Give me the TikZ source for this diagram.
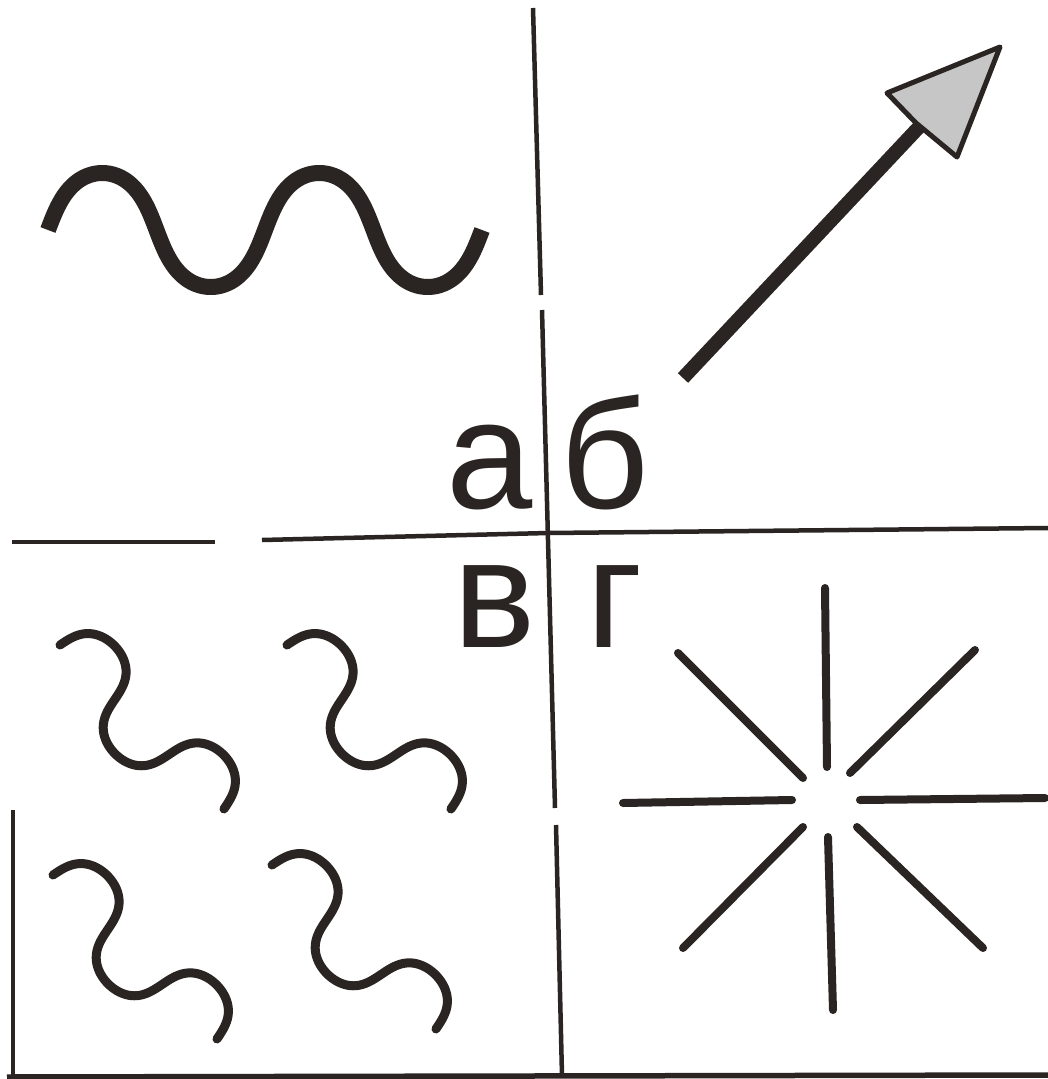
\documentclass[tikz,border=0pt]{standalone}
\usepackage{fontspec}
\setmainfont{Liberation Sans}
\definecolor{ink}{RGB}{42,36,34}
\begin{document}
\begin{tikzpicture}[x=1pt,y=-1pt,
  rule/.style={draw=ink, line width=4.5pt},
  ray/.style={draw=ink, line width=8pt, line cap=round},
  wormline/.style={draw=ink, line width=9pt, line cap=round,
    postaction={draw=ink, line width=5pt}},
  lbl/.style={font=\fontsize{155}{155}\selectfont, text=ink, inner sep=0pt, anchor=base}
]
\useasboundingbox (0,0) rectangle (1048,1079);
\fill[white] (0,0) rectangle (1048,1079);

% frame lines
\draw[rule] (533,8) -- (541,295);
\draw[rule] (542,310) -- (555,808);
\draw[rule] (556,825) -- (562,1076);
\draw[rule] (12,542) -- (215,542);
\draw[rule] (262,540) -- (548,533) -- (1048,528);
\draw[draw=ink, line width=3.5pt] (13,810) -- (13,1077);
\draw[draw=ink, line width=5.5pt] (7,1077) -- (1048,1075);

% a: wave
\draw[draw=ink, line width=16pt, line join=round] plot[variable=\t, domain=0:720, samples=240]
  ({48+0.6028*\t-6.5*sin(2*\t)}, {230-57*sin(\t)});

% b: arrow
\draw[draw=ink, line width=14pt] (683,378) -- (920,126);
\filldraw[fill=gray!45, draw=ink, line width=5pt, line join=round] (1000,47) -- (887,93) -- (916,123) -- (957,157) -- cycle;

% v: worms
\draw[wormline] plot[variable=\t, domain=0:540, samples=160]
  ({60+0.7071*(0.4294*\t-8.6*sin(2*\t)+38*sin(\t))}, {645+0.7071*(0.4294*\t-8.6*sin(2*\t)-38*sin(\t))});
\draw[wormline] plot[variable=\t, domain=0:540, samples=160]
  ({287+0.7071*(0.4294*\t-8.6*sin(2*\t)+38*sin(\t))}, {645+0.7071*(0.4294*\t-8.6*sin(2*\t)-38*sin(\t))});
\draw[wormline] plot[variable=\t, domain=0:540, samples=160]
  ({53+0.7071*(0.4294*\t-8.6*sin(2*\t)+38*sin(\t))}, {875+0.7071*(0.4294*\t-8.6*sin(2*\t)-38*sin(\t))});
\draw[wormline] plot[variable=\t, domain=0:540, samples=160]
  ({272+0.7071*(0.4294*\t-8.6*sin(2*\t)+38*sin(\t))}, {865+0.7071*(0.4294*\t-8.6*sin(2*\t)-38*sin(\t))});

% g: star
\draw[ray] (825,588) -- (827,767);
\draw[ray] (828,837) -- (833,1010);
\draw[ray] (623,803) -- (792,800);
\draw[ray] (860,800) -- (1045,798);
\draw[ray] (678,653) -- (803,778);
\draw[ray] (975,650) -- (850,773);
\draw[ray] (683,948) -- (803,827);
\draw[ray] (857,827) -- (983,948);

% labels
\node[lbl] (la) at (490,508) {а};
\node[lbl] (lb) at (605,508) {б};
\node[lbl] (lv) at (495,647) {в};
\node[lbl] (lg) at (615,647) {г};
\end{tikzpicture}
\end{document}
